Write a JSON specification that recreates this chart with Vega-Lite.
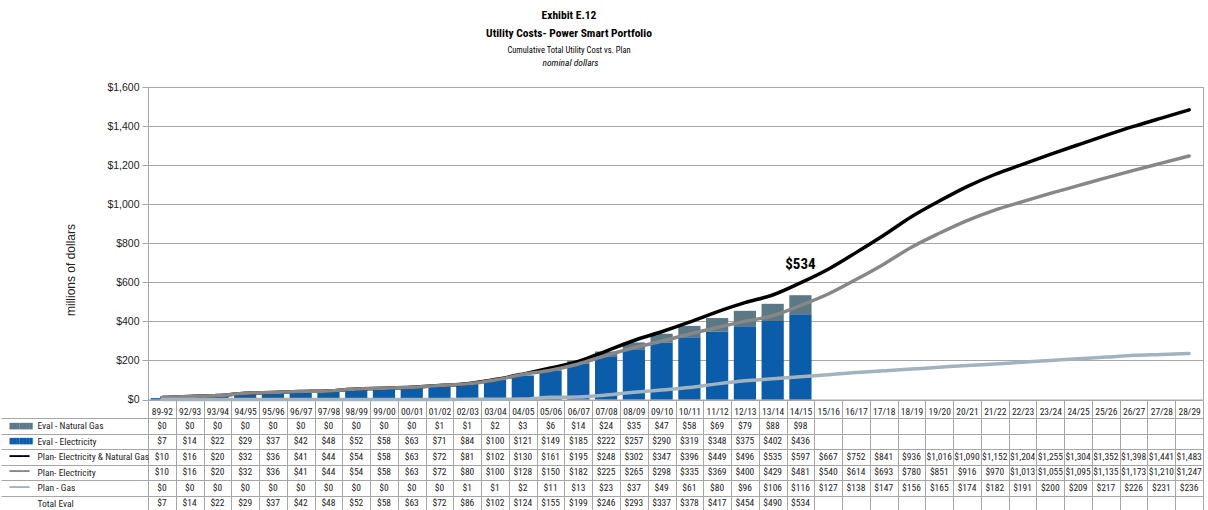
{
  "$schema": "https://vega.github.io/schema/vega-lite/v6.json",
  "padding": {"left": 0, "top": 10, "right": 0, "bottom": 0},
  "background": "white",
  "title": {
    "text": ["Exhibit E.12", "Utility Costs- Power Smart Portfolio"],
    "subtitle": "Cumulative Total Utility Cost vs. Plan",
    "font": "Roboto Condensed, Liberation Sans, sans-serif",
    "subtitleFont": "Roboto Condensed, Liberation Sans, sans-serif",
    "fontSize": 11.5, "fontWeight": "bold", "lineHeight": 18, "color": "#000",
    "subtitleFontSize": 8.5, "subtitleColor": "#000", "subtitlePadding": 6,
    "anchor": "middle", "dx": -33, "offset": 3
  },
  "datasets": {
    "d": [
      {"p": "89-92", "Eval - Natural Gas": 0, "Eval - Electricity": 7, "Plan- Electricity & Natural Gas": 10, "Plan- Electricity": 10, "Plan - Gas": 0, "Total Eval": 7},
      {"p": "92/93", "Eval - Natural Gas": 0, "Eval - Electricity": 14, "Plan- Electricity & Natural Gas": 16, "Plan- Electricity": 16, "Plan - Gas": 0, "Total Eval": 14},
      {"p": "93/94", "Eval - Natural Gas": 0, "Eval - Electricity": 22, "Plan- Electricity & Natural Gas": 20, "Plan- Electricity": 20, "Plan - Gas": 0, "Total Eval": 22},
      {"p": "94/95", "Eval - Natural Gas": 0, "Eval - Electricity": 29, "Plan- Electricity & Natural Gas": 32, "Plan- Electricity": 32, "Plan - Gas": 0, "Total Eval": 29},
      {"p": "95/96", "Eval - Natural Gas": 0, "Eval - Electricity": 37, "Plan- Electricity & Natural Gas": 36, "Plan- Electricity": 36, "Plan - Gas": 0, "Total Eval": 37},
      {"p": "96/97", "Eval - Natural Gas": 0, "Eval - Electricity": 42, "Plan- Electricity & Natural Gas": 41, "Plan- Electricity": 41, "Plan - Gas": 0, "Total Eval": 42},
      {"p": "97/98", "Eval - Natural Gas": 0, "Eval - Electricity": 48, "Plan- Electricity & Natural Gas": 44, "Plan- Electricity": 44, "Plan - Gas": 0, "Total Eval": 48},
      {"p": "98/99", "Eval - Natural Gas": 0, "Eval - Electricity": 52, "Plan- Electricity & Natural Gas": 54, "Plan- Electricity": 54, "Plan - Gas": 0, "Total Eval": 52},
      {"p": "99/00", "Eval - Natural Gas": 0, "Eval - Electricity": 58, "Plan- Electricity & Natural Gas": 58, "Plan- Electricity": 58, "Plan - Gas": 0, "Total Eval": 58},
      {"p": "00/01", "Eval - Natural Gas": 0, "Eval - Electricity": 63, "Plan- Electricity & Natural Gas": 63, "Plan- Electricity": 63, "Plan - Gas": 0, "Total Eval": 63},
      {"p": "01/02", "Eval - Natural Gas": 1, "Eval - Electricity": 71, "Plan- Electricity & Natural Gas": 72, "Plan- Electricity": 72, "Plan - Gas": 0, "Total Eval": 72},
      {"p": "02/03", "Eval - Natural Gas": 1, "Eval - Electricity": 84, "Plan- Electricity & Natural Gas": 81, "Plan- Electricity": 80, "Plan - Gas": 1, "Total Eval": 86},
      {"p": "03/04", "Eval - Natural Gas": 2, "Eval - Electricity": 100, "Plan- Electricity & Natural Gas": 102, "Plan- Electricity": 100, "Plan - Gas": 1, "Total Eval": 102},
      {"p": "04/05", "Eval - Natural Gas": 3, "Eval - Electricity": 121, "Plan- Electricity & Natural Gas": 130, "Plan- Electricity": 128, "Plan - Gas": 2, "Total Eval": 124},
      {"p": "05/06", "Eval - Natural Gas": 6, "Eval - Electricity": 149, "Plan- Electricity & Natural Gas": 161, "Plan- Electricity": 150, "Plan - Gas": 11, "Total Eval": 155},
      {"p": "06/07", "Eval - Natural Gas": 14, "Eval - Electricity": 185, "Plan- Electricity & Natural Gas": 195, "Plan- Electricity": 182, "Plan - Gas": 13, "Total Eval": 199},
      {"p": "07/08", "Eval - Natural Gas": 24, "Eval - Electricity": 222, "Plan- Electricity & Natural Gas": 248, "Plan- Electricity": 225, "Plan - Gas": 23, "Total Eval": 246},
      {"p": "08/09", "Eval - Natural Gas": 35, "Eval - Electricity": 257, "Plan- Electricity & Natural Gas": 302, "Plan- Electricity": 265, "Plan - Gas": 37, "Total Eval": 293},
      {"p": "09/10", "Eval - Natural Gas": 47, "Eval - Electricity": 290, "Plan- Electricity & Natural Gas": 347, "Plan- Electricity": 298, "Plan - Gas": 49, "Total Eval": 337},
      {"p": "10/11", "Eval - Natural Gas": 58, "Eval - Electricity": 319, "Plan- Electricity & Natural Gas": 396, "Plan- Electricity": 335, "Plan - Gas": 61, "Total Eval": 378},
      {"p": "11/12", "Eval - Natural Gas": 69, "Eval - Electricity": 348, "Plan- Electricity & Natural Gas": 449, "Plan- Electricity": 369, "Plan - Gas": 80, "Total Eval": 417},
      {"p": "12/13", "Eval - Natural Gas": 79, "Eval - Electricity": 375, "Plan- Electricity & Natural Gas": 496, "Plan- Electricity": 400, "Plan - Gas": 96, "Total Eval": 454},
      {"p": "13/14", "Eval - Natural Gas": 88, "Eval - Electricity": 402, "Plan- Electricity & Natural Gas": 535, "Plan- Electricity": 429, "Plan - Gas": 106, "Total Eval": 490},
      {"p": "14/15", "Eval - Natural Gas": 98, "Eval - Electricity": 436, "Plan- Electricity & Natural Gas": 597, "Plan- Electricity": 481, "Plan - Gas": 116, "Total Eval": 534},
      {"p": "15/16", "Plan- Electricity & Natural Gas": 667, "Plan- Electricity": 540, "Plan - Gas": 127},
      {"p": "16/17", "Plan- Electricity & Natural Gas": 752, "Plan- Electricity": 614, "Plan - Gas": 138},
      {"p": "17/18", "Plan- Electricity & Natural Gas": 841, "Plan- Electricity": 693, "Plan - Gas": 147},
      {"p": "18/19", "Plan- Electricity & Natural Gas": 936, "Plan- Electricity": 780, "Plan - Gas": 156},
      {"p": "19/20", "Plan- Electricity & Natural Gas": 1016, "Plan- Electricity": 851, "Plan - Gas": 165},
      {"p": "20/21", "Plan- Electricity & Natural Gas": 1090, "Plan- Electricity": 916, "Plan - Gas": 174},
      {"p": "21/22", "Plan- Electricity & Natural Gas": 1152, "Plan- Electricity": 970, "Plan - Gas": 182},
      {"p": "22/23", "Plan- Electricity & Natural Gas": 1204, "Plan- Electricity": 1013, "Plan - Gas": 191},
      {"p": "23/24", "Plan- Electricity & Natural Gas": 1255, "Plan- Electricity": 1055, "Plan - Gas": 200},
      {"p": "24/25", "Plan- Electricity & Natural Gas": 1304, "Plan- Electricity": 1095, "Plan - Gas": 209},
      {"p": "25/26", "Plan- Electricity & Natural Gas": 1352, "Plan- Electricity": 1135, "Plan - Gas": 217},
      {"p": "26/27", "Plan- Electricity & Natural Gas": 1398, "Plan- Electricity": 1173, "Plan - Gas": 226},
      {"p": "27/28", "Plan- Electricity & Natural Gas": 1441, "Plan- Electricity": 1210, "Plan - Gas": 231},
      {"p": "28/29", "Plan- Electricity & Natural Gas": 1483, "Plan- Electricity": 1247, "Plan - Gas": 236}
    ]
  },
  "bounds": "flush",
  "spacing": 18,
  "vconcat": [
    {
      "width": 1055,
      "height": 312.5,
      "title": {"text": "nominal dollars", "fontStyle": "italic", "fontWeight": "normal", "fontSize": 9.5, "offset": 15, "dx": -105, "color": "#000", "font": "Roboto Condensed, Liberation Sans, sans-serif"},
      "data": {"name": "d"},
      "encoding": {
        "x": {
          "field": "p", "type": "nominal", "sort": null,
          "scale": {"domain": ["89-92","92/93","93/94","94/95","95/96","96/97","97/98","98/99","99/00","00/01","01/02","02/03","03/04","04/05","05/06","06/07","07/08","08/09","09/10","10/11","11/12","12/13","13/14","14/15","15/16","16/17","17/18","18/19","19/20","20/21","21/22","22/23","23/24","24/25","25/26","26/27","27/28","28/29"], "paddingInner": 0.2, "paddingOuter": 0.1},
          "axis": null
        }
      },
      "layer": [
        {
          "transform": [
            {"fold": ["Eval - Electricity", "Eval - Natural Gas"], "as": ["s", "v"]},
            {"filter": "isValid(datum.v)"}
          ],
          "mark": {"type": "bar"},
          "encoding": {
            "y": {
              "field": "v", "type": "quantitative", "stack": "zero",
              "scale": {"domain": [0, 1600], "nice": false},
              "axis": {
                "values": [0, 200, 400, 600, 800, 1000, 1200, 1400, 1600], "tickCount": 20,
                "format": "$,.0f", "title": "millions of dollars",
                "titleFontWeight": "normal", "titleFontSize": 12, "titleColor": "#222",
                "titleX": -71, "titleY": 182.5, "titleAngle": -90,
                "labelFontSize": 10.5, "tickSize": 6, "labelPadding": 3,
                "grid": true
              }
            },
            "color": {
              "field": "s", "type": "nominal",
              "scale": {"domain": ["Eval - Electricity", "Eval - Natural Gas"], "range": ["#0b5ca9", "#5b7886"]},
              "legend": null
            },
            "order": {"field": "s", "sort": "ascending"}
          }
        },
        {
          "transform": [
            {"fold": ["Plan- Electricity & Natural Gas", "Plan- Electricity", "Plan - Gas"], "as": ["s", "v"]},
            {"filter": "isValid(datum.v)"}
          ],
          "mark": {"type": "line", "interpolate": "monotone", "strokeWidth": 3.5, "strokeCap": "round"},
          "encoding": {
            "y": {
              "field": "v", "type": "quantitative",
              "axis": {
                "values": [0, 200, 400, 600, 800, 1000, 1200, 1400, 1600], "tickCount": 20,
                "format": "$,.0f", "title": "millions of dollars",
                "titleFontWeight": "normal", "titleFontSize": 12, "titleColor": "#222",
                "titleX": -71, "titleY": 182.5, "titleAngle": -90,
                "labelFontSize": 10.5, "tickSize": 6, "labelPadding": 3,
                "grid": true
              }
            },
            "detail": {"field": "s"},
            "stroke": {
              "field": "s", "type": "nominal",
              "scale": {"domain": ["Plan- Electricity & Natural Gas", "Plan- Electricity", "Plan - Gas"], "range": ["#000000", "#878787", "#a2b3bf"]},
              "legend": null
            }
          }
        },
        {
          "transform": [{"filter": "datum.p == '14/15'"}],
          "mark": {"type": "text", "fontWeight": "bold", "fontSize": 15, "dy": -31, "baseline": "middle", "color": "#000", "font": "Roboto Condensed, Liberation Sans, sans-serif"},
          "encoding": {
            "y": {
              "field": "Total Eval", "type": "quantitative",
              "axis": {
                "values": [0, 200, 400, 600, 800, 1000, 1200, 1400, 1600], "tickCount": 20,
                "format": "$,.0f", "title": "millions of dollars",
                "titleFontWeight": "normal", "titleFontSize": 12, "titleColor": "#222",
                "titleX": -71, "titleY": 182.5, "titleAngle": -90,
                "labelFontSize": 10.5, "tickSize": 6, "labelPadding": 3,
                "grid": true
              }
            },
            "text": {"field": "Total Eval", "type": "quantitative", "format": "$,.0f"}
          }
        }
      ]
    },
    {
      "width": 1055,
      "height": 93,
      "data": {"name": "d"},
      "encoding": {
        "x": {
          "field": "p", "type": "nominal", "sort": null,
          "scale": {"domain": ["89-92","92/93","93/94","94/95","95/96","96/97","97/98","98/99","99/00","00/01","01/02","02/03","03/04","04/05","05/06","06/07","07/08","08/09","09/10","10/11","11/12","12/13","13/14","14/15","15/16","16/17","17/18","18/19","19/20","20/21","21/22","22/23","23/24","24/25","25/26","26/27","27/28","28/29"], "paddingInner": 0, "paddingOuter": 0},
          "axis": {"orient": "top", "title": null, "tickBand": "extent", "tickSize": 18, "labelPadding": -16, "labelAngle": 0, "labelOverlap": false, "grid": true, "domain": false, "labelFontSize": 9.5, "labelFont": "Roboto Condensed, Liberation Sans, sans-serif"}
        }
      },
      "layer": [
        {
          "transform": [
            {"fold": ["Eval - Natural Gas", "Eval - Electricity", "Total Eval"], "as": ["s", "v"]},
            {"filter": "isValid(datum.v)"}
          ],
          "mark": {"type": "text", "fontSize": 9.5, "color": "#222", "font": "Roboto Condensed, Liberation Sans, sans-serif"},
          "encoding": {
            "y": {
              "field": "s", "type": "nominal",
              "scale": {"domain": ["Eval - Natural Gas", "Eval - Electricity", "Plan- Electricity & Natural Gas", "Plan- Electricity", "Plan - Gas", "Total Eval"]},
              "axis": {"orient": "left", "title": null, "tickBand": "extent", "tickSize": 147, "labelAlign": "left", "labelPadding": -36, "grid": true, "domain": false, "labelFontSize": 9.5, "labelBaseline": "middle", "labelFont": "Roboto Condensed, Liberation Sans, sans-serif"}
            },
            "text": {"field": "v", "type": "quantitative", "format": "$,.0f"}
          }
        },
        {
          "transform": [
            {"fold": ["Plan- Electricity & Natural Gas", "Plan- Electricity", "Plan - Gas"], "as": ["s", "v"]},
            {"filter": "isValid(datum.v)"}
          ],
          "mark": {"type": "text", "fontSize": 9.5, "color": "#222", "font": "Roboto Condensed, Liberation Sans, sans-serif"},
          "encoding": {
            "y": {
              "field": "s", "type": "nominal",
              "axis": {
                "orient": "left", "title": null, "ticks": false, "tickSize": 0, "domain": false, "grid": false,
                "labelAlign": "left", "labelPadding": 139, "labelBaseline": "middle",
                "labelFont": "DejaVu Sans Mono",
                "labelFontSize": {"condition": {"test": "indexof(['Eval - Natural Gas','Eval - Electricity'], datum.value) >= 0", "value": 5.5}, "value": 11},
                "labelExpr": "indexof(['Eval - Natural Gas','Eval - Electricity'], datum.value) >= 0 ? '███████' : (datum.value == 'Total Eval' ? '' : '━━━')",
                "labelColor": {"condition": [
                  {"test": "datum.value == 'Eval - Natural Gas'", "value": "#5b7886"},
                  {"test": "datum.value == 'Eval - Electricity'", "value": "#0b5ca9"},
                  {"test": "datum.value == 'Plan- Electricity'", "value": "#878787"},
                  {"test": "datum.value == 'Plan - Gas'", "value": "#a2b3bf"}
                ], "value": "#000000"}
              }
            },
            "text": {"field": "v", "type": "quantitative", "format": "$,.0f"}
          }
        }
      ],
      "resolve": {"axis": {"y": "independent"}}
    }
  ],
  "config": {
    "font": "Roboto Condensed, Liberation Sans, sans-serif",
    "view": {"stroke": "#a6a6a6"},
    "axis": {
      "labelFont": "Liberation Sans, sans-serif",
      "titleFont": "Liberation Sans, sans-serif",
      "labelColor": "#222",
      "domainColor": "#a6a6a6",
      "tickColor": "#a6a6a6",
      "gridColor": "#a6a6a6"
    },
    "text": {"font": "Roboto Condensed, Liberation Sans, sans-serif"}
  }
}
